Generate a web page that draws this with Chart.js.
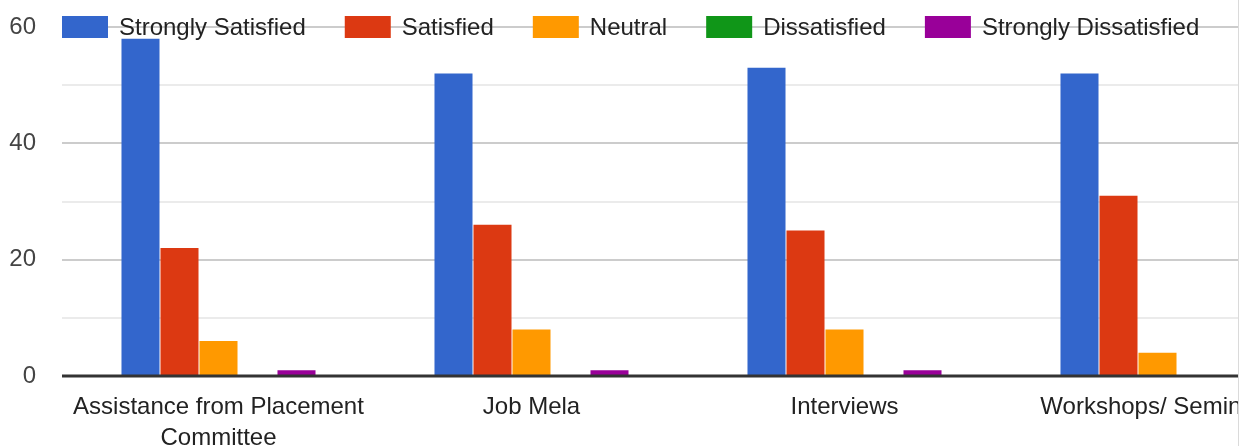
<!DOCTYPE html>
<html>
<head>
<meta charset="utf-8">
<script src="https://cdn.jsdelivr.net/npm/chart.js@4.4.0/dist/chart.umd.min.js"></script>
<style>
    html, body { margin: 0; padding: 0; background: #fff; overflow: hidden; }
    #wrap { width: 1238px; height: 446px; overflow: hidden; border-right: 1px solid #dadada; }
</style>
</head>
<body>
<div id="wrap">
    <canvas id="chart" width="1314" height="446"></canvas>
</div>
<script>
// Chart data
const categories = [
    ['Assistance from Placement', 'Committee'],
    'Job Mela',
    'Interviews',
    'Workshops/ Seminars'
];
const seriesNames = ['Strongly Satisfied', 'Satisfied', 'Neutral', 'Dissatisfied', 'Strongly Dissatisfied'];
const stronglySatisfied = [58, 52, 53, 52];
const satisfied = [22, 26, 25, 31];
const neutral = [6, 8, 8, 4];
const dissatisfied = [0, 0, 0, 0];
const stronglyDissatisfied = [1, 1, 1, 0];
const yTicks = [0, 20, 40, 60];

const colors = ['#3366cc', '#dc3912', '#ff9900', '#109618', '#990099'];
const allSeries = [stronglySatisfied, satisfied, neutral, dissatisfied, stronglyDissatisfied];
const FONT = '"Liberation Sans", Arial, sans-serif';

// legend drawn over the top gridline, like the original
const topLegend = {
    id: 'topLegend',
    afterDraw(chart) {
        const ctx = chart.ctx;
        ctx.save();
        ctx.font = '24px ' + FONT;
        ctx.textBaseline = 'middle';
        let x = chart.chartArea.left;
        const y = chart.scales.y.getPixelForValue(60);
        chart.data.datasets.forEach(ds => {
            ctx.fillStyle = ds.backgroundColor;
            ctx.fillRect(x, y - 11, 46, 22);
            ctx.fillStyle = '#222';
            ctx.fillText(ds.label, x + 57, y + 1);
            x += 57 + ctx.measureText(ds.label).width + 39;
        });
        ctx.restore();
    }
};

// dark baseline at zero, on top of the bars
const baseline = {
    id: 'baseline',
    afterDatasetsDraw(chart) {
        const ctx = chart.ctx;
        const y0 = chart.scales.y.getPixelForValue(0);
        ctx.save();
        ctx.fillStyle = '#333';
        ctx.fillRect(chart.chartArea.left, y0 - 1.5, chart.chartArea.right - chart.chartArea.left, 3);
        ctx.restore();
    }
};

new Chart(document.getElementById('chart').getContext('2d'), {
    type: 'bar',
    data: {
        labels: categories,
        datasets: seriesNames.map((name, i) => ({
            label: name,
            data: allSeries[i],
            backgroundColor: colors[i],
            borderWidth: 0,
            categoryPercentage: 0.623,
            barPercentage: 0.975
        }))
    },
    options: {
        responsive: false,
        animation: false,
        layout: { padding: { top: 27, left: 0, right: 0, bottom: 0 } },
        plugins: {
            legend: { display: false },
            tooltip: { enabled: false }
        },
        scales: {
            x: {
                grid: { display: false },
                border: { display: false },
                ticks: {
                    color: '#222',
                    font: { family: FONT, size: 24, lineHeight: 1.29 },
                    padding: 8,
                    maxRotation: 0,
                    autoSkip: false
                },
                afterFit(scale) { scale.height = 70; }
            },
            y: {
                min: 0,
                max: 60,
                border: { display: false },
                grid: {
                    drawTicks: false,
                    color: ctx => yTicks.includes(ctx.tick.value) ? '#cccccc' : '#ebebeb',
                    lineWidth: ctx => ctx.tick.value === 0 ? 0 : 2
                },
                ticks: {
                    stepSize: 10,
                    padding: 26,
                    color: '#444',
                    font: { family: FONT, size: 24 },
                    callback: v => yTicks.includes(v) ? v : ''
                },
                afterFit(scale) {
                    scale.width = 62;
                    scale.paddingTop = 0;
                    scale.paddingBottom = 0;
                }
            }
        }
    },
    plugins: [topLegend, baseline]
});
</script>
</body>
</html>
